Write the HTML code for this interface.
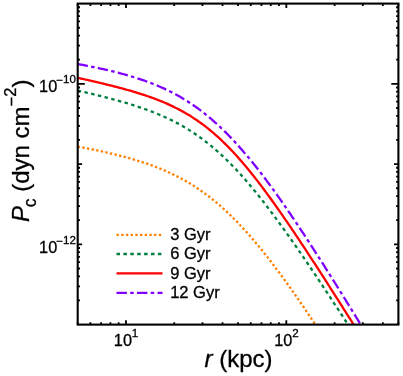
<!DOCTYPE html>
<html><head><meta charset="utf-8"><style>
html,body{margin:0;padding:0;background:#fff;}
svg{display:block;opacity:0.999;will-change:transform}
text{font-family:"Liberation Sans",sans-serif;fill:#000;stroke:#000;stroke-width:0.3px}
</style></head><body>
<svg width="403" height="376" viewBox="0 0 403 376">
<rect width="403" height="376" fill="#fff"/>
<defs><clipPath id="c"><rect x="77.70" y="3.60" width="320.70" height="321.00"/></clipPath></defs>

<g clip-path="url(#c)" fill="none" stroke-width="2.3">
<polyline points="77.70,146.58 79.31,146.89 80.92,147.19 82.53,147.50 84.15,147.81 85.76,148.13 87.37,148.45 88.98,148.77 90.59,149.09 92.20,149.42 93.82,149.75 95.43,150.08 97.04,150.42 98.65,150.76 100.26,151.11 101.87,151.46 103.48,151.81 105.10,152.17 106.71,152.53 108.32,152.90 109.93,153.27 111.54,153.65 113.15,154.03 114.77,154.42 116.38,154.81 117.99,155.21 119.60,155.62 121.21,156.03 122.82,156.45 124.44,156.88 126.05,157.31 127.66,157.75 129.27,158.20 130.88,158.65 132.49,159.12 134.10,159.59 135.72,160.07 137.33,160.56 138.94,161.05 140.55,161.56 142.16,162.08 143.77,162.61 145.39,163.14 147.00,163.69 148.61,164.25 150.22,164.82 151.83,165.41 153.44,166.00 155.05,166.61 156.67,167.23 158.28,167.86 159.89,168.51 161.50,169.17 163.11,169.84 164.72,170.53 166.34,171.24 167.95,171.96 169.56,172.69 171.17,173.44 172.78,174.21 174.39,174.99 176.01,175.80 177.62,176.62 179.23,177.45 180.84,178.31 182.45,179.18 184.06,180.08 185.67,180.99 187.29,181.93 188.90,182.88 190.51,183.85 192.12,184.85 193.73,185.86 195.34,186.90 196.96,187.96 198.57,189.04 200.18,190.15 201.79,191.27 203.40,192.42 205.01,193.59 206.62,194.79 208.24,196.01 209.85,197.25 211.46,198.52 213.07,199.81 214.68,201.12 216.29,202.46 217.91,203.82 219.52,205.21 221.13,206.62 222.74,208.06 224.35,209.52 225.96,211.00 227.57,212.51 229.19,214.04 230.80,215.60 232.41,217.18 234.02,218.79 235.63,220.42 237.24,222.07 238.86,223.74 240.47,225.44 242.08,227.17 243.69,228.91 245.30,230.68 246.91,232.47 248.53,234.29 250.14,236.12 251.75,237.98 253.36,239.86 254.97,241.76 256.58,243.67 258.19,245.61 259.81,247.57 261.42,249.55 263.03,251.55 264.64,253.57 266.25,255.61 267.86,257.66 269.48,259.73 271.09,261.82 272.70,263.93 274.31,266.05 275.92,268.19 277.53,270.35 279.14,272.52 280.76,274.71 282.37,276.91 283.98,279.12 285.59,281.35 287.20,283.60 288.81,285.85 290.43,288.12 292.04,290.41 293.65,292.70 295.26,295.01 296.87,297.32 298.48,299.65 300.09,301.99 301.71,304.34 303.32,306.70 304.93,309.07 306.54,311.45 308.15,313.84 309.76,316.24 311.38,318.65 312.99,321.06 314.60,323.49 316.21,325.92 317.82,328.36" stroke="#ff8000" stroke-dasharray="2.35 2.35"/>
<polyline points="77.70,90.55 79.31,90.92 80.92,91.29 82.53,91.67 84.15,92.05 85.76,92.43 87.37,92.81 88.98,93.19 90.59,93.58 92.20,93.97 93.82,94.36 95.43,94.75 97.04,95.15 98.65,95.55 100.26,95.96 101.87,96.36 103.48,96.77 105.10,97.19 106.71,97.60 108.32,98.02 109.93,98.45 111.54,98.88 113.15,99.31 114.77,99.75 116.38,100.20 117.99,100.64 119.60,101.10 121.21,101.56 122.82,102.02 124.44,102.49 126.05,102.97 127.66,103.45 129.27,103.94 130.88,104.44 132.49,104.94 134.10,105.45 135.72,105.97 137.33,106.50 138.94,107.04 140.55,107.58 142.16,108.13 143.77,108.70 145.39,109.27 147.00,109.85 148.61,110.45 150.22,111.05 151.83,111.67 153.44,112.29 155.05,112.93 156.67,113.58 158.28,114.25 159.89,114.92 161.50,115.61 163.11,116.32 164.72,117.04 166.34,117.77 167.95,118.52 169.56,119.29 171.17,120.07 172.78,120.87 174.39,121.69 176.01,122.52 177.62,123.38 179.23,124.25 180.84,125.14 182.45,126.05 184.06,126.98 185.67,127.93 187.29,128.90 188.90,129.89 190.51,130.90 192.12,131.94 193.73,133.00 195.34,134.08 196.96,135.18 198.57,136.31 200.18,137.46 201.79,138.63 203.40,139.83 205.01,141.06 206.62,142.30 208.24,143.58 209.85,144.88 211.46,146.20 213.07,147.55 214.68,148.92 216.29,150.32 217.91,151.74 219.52,153.19 221.13,154.67 222.74,156.17 224.35,157.70 225.96,159.25 227.57,160.82 229.19,162.43 230.80,164.05 232.41,165.70 234.02,167.38 235.63,169.08 237.24,170.80 238.86,172.55 240.47,174.32 242.08,176.11 243.69,177.93 245.30,179.76 246.91,181.62 248.53,183.50 250.14,185.41 251.75,187.33 253.36,189.27 254.97,191.23 256.58,193.21 258.19,195.22 259.81,197.23 261.42,199.27 263.03,201.33 264.64,203.40 266.25,205.49 267.86,207.59 269.48,209.71 271.09,211.85 272.70,214.00 274.31,216.16 275.92,218.34 277.53,220.53 279.14,222.74 280.76,224.96 282.37,227.19 283.98,229.43 285.59,231.68 287.20,233.95 288.81,236.22 290.43,238.51 292.04,240.81 293.65,243.11 295.26,245.43 296.87,247.75 298.48,250.08 300.09,252.42 301.71,254.77 303.32,257.13 304.93,259.49 306.54,261.86 308.15,264.24 309.76,266.62 311.38,269.01 312.99,271.41 314.60,273.81 316.21,276.22 317.82,278.63 319.43,281.05 321.05,283.47 322.66,285.90 324.27,288.33 325.88,290.77 327.49,293.21 329.10,295.65 330.71,298.10 332.33,300.55 333.94,303.01 335.55,305.47 337.16,307.93 338.77,310.40 340.38,312.86 342.00,315.33 343.61,317.81 345.22,320.28 346.83,322.76 348.44,325.24 350.05,327.73" stroke="#008040" stroke-dasharray="3.5 3.4"/>
<polyline points="77.70,77.81 79.31,78.17 80.92,78.53 82.53,78.88 84.15,79.25 85.76,79.61 87.37,79.97 88.98,80.34 90.59,80.71 92.20,81.08 93.82,81.45 95.43,81.82 97.04,82.20 98.65,82.58 100.26,82.96 101.87,83.34 103.48,83.73 105.10,84.12 106.71,84.51 108.32,84.91 109.93,85.31 111.54,85.72 113.15,86.12 114.77,86.53 116.38,86.95 117.99,87.37 119.60,87.80 121.21,88.23 122.82,88.66 124.44,89.10 126.05,89.55 127.66,90.00 129.27,90.46 130.88,90.92 132.49,91.39 134.10,91.87 135.72,92.35 137.33,92.84 138.94,93.34 140.55,93.85 142.16,94.37 143.77,94.89 145.39,95.43 147.00,95.97 148.61,96.53 150.22,97.10 151.83,97.67 153.44,98.26 155.05,98.86 156.67,99.47 158.28,100.10 159.89,100.74 161.50,101.39 163.11,102.05 164.72,102.74 166.34,103.43 167.95,104.15 169.56,104.88 171.17,105.62 172.78,106.38 174.39,107.17 176.01,107.97 177.62,108.79 179.23,109.63 180.84,110.49 182.45,111.37 184.06,112.27 185.67,113.19 187.29,114.14 188.90,115.11 190.51,116.10 192.12,117.12 193.73,118.16 195.34,119.22 196.96,120.32 198.57,121.43 200.18,122.58 201.79,123.75 203.40,124.94 205.01,126.17 206.62,127.42 208.24,128.70 209.85,130.01 211.46,131.34 213.07,132.71 214.68,134.10 216.29,135.52 217.91,136.97 219.52,138.45 221.13,139.95 222.74,141.49 224.35,143.05 225.96,144.64 227.57,146.26 229.19,147.91 230.80,149.58 232.41,151.29 234.02,153.02 235.63,154.77 237.24,156.55 238.86,158.36 240.47,160.20 242.08,162.06 243.69,163.94 245.30,165.85 246.91,167.78 248.53,169.73 250.14,171.71 251.75,173.71 253.36,175.73 254.97,177.78 256.58,179.84 258.19,181.92 259.81,184.02 261.42,186.15 263.03,188.29 264.64,190.44 266.25,192.62 267.86,194.81 269.48,197.02 271.09,199.24 272.70,201.48 274.31,203.73 275.92,206.00 277.53,208.28 279.14,210.57 280.76,212.88 282.37,215.20 283.98,217.53 285.59,219.87 287.20,222.22 288.81,224.58 290.43,226.95 292.04,229.34 293.65,231.73 295.26,234.13 296.87,236.54 298.48,238.95 300.09,241.37 301.71,243.81 303.32,246.24 304.93,248.69 306.54,251.14 308.15,253.60 309.76,256.06 311.38,258.53 312.99,261.01 314.60,263.49 316.21,265.97 317.82,268.46 319.43,270.95 321.05,273.45 322.66,275.95 324.27,278.46 325.88,280.97 327.49,283.48 329.10,286.00 330.71,288.52 332.33,291.04 333.94,293.57 335.55,296.10 337.16,298.63 338.77,301.16 340.38,303.70 342.00,306.24 343.61,308.78 345.22,311.32 346.83,313.87 348.44,316.41 350.05,318.96 351.66,321.51 353.28,324.07 354.89,326.62 356.50,329.17" stroke="#ff0000"/>
<polyline points="77.70,63.97 79.31,64.27 80.92,64.58 82.53,64.88 84.15,65.20 85.76,65.51 87.37,65.83 88.98,66.15 90.59,66.48 92.20,66.81 93.82,67.14 95.43,67.47 97.04,67.82 98.65,68.16 100.26,68.51 101.87,68.87 103.48,69.23 105.10,69.59 106.71,69.96 108.32,70.33 109.93,70.72 111.54,71.10 113.15,71.49 114.77,71.89 116.38,72.30 117.99,72.71 119.60,73.13 121.21,73.56 122.82,73.99 124.44,74.43 126.05,74.88 127.66,75.34 129.27,75.81 130.88,76.28 132.49,76.77 134.10,77.26 135.72,77.76 137.33,78.28 138.94,78.80 140.55,79.34 142.16,79.88 143.77,80.44 145.39,81.01 147.00,81.59 148.61,82.18 150.22,82.79 151.83,83.41 153.44,84.05 155.05,84.69 156.67,85.36 158.28,86.03 159.89,86.73 161.50,87.43 163.11,88.16 164.72,88.90 166.34,89.66 167.95,90.43 169.56,91.22 171.17,92.03 172.78,92.86 174.39,93.71 176.01,94.58 177.62,95.46 179.23,96.37 180.84,97.30 182.45,98.25 184.06,99.22 185.67,100.21 187.29,101.22 188.90,102.25 190.51,103.31 192.12,104.39 193.73,105.49 195.34,106.62 196.96,107.77 198.57,108.94 200.18,110.14 201.79,111.36 203.40,112.61 205.01,113.88 206.62,115.17 208.24,116.49 209.85,117.84 211.46,119.21 213.07,120.61 214.68,122.03 216.29,123.48 217.91,124.95 219.52,126.45 221.13,127.97 222.74,129.52 224.35,131.09 225.96,132.69 227.57,134.31 229.19,135.96 230.80,137.64 232.41,139.33 234.02,141.06 235.63,142.80 237.24,144.57 238.86,146.37 240.47,148.18 242.08,150.02 243.69,151.89 245.30,153.77 246.91,155.68 248.53,157.61 250.14,159.56 251.75,161.53 253.36,163.52 254.97,165.54 256.58,167.57 258.19,169.62 259.81,171.70 261.42,173.79 263.03,175.90 264.64,178.02 266.25,180.17 267.86,182.33 269.48,184.51 271.09,186.71 272.70,188.92 274.31,191.15 275.92,193.39 277.53,195.65 279.14,197.92 280.76,200.21 282.37,202.51 283.98,204.82 285.59,207.15 287.20,209.49 288.81,211.84 290.43,214.20 292.04,216.57 293.65,218.96 295.26,221.36 296.87,223.76 298.48,226.18 300.09,228.61 301.71,231.04 303.32,233.49 304.93,235.94 306.54,238.41 308.15,240.88 309.76,243.36 311.38,245.84 312.99,248.34 314.60,250.84 316.21,253.35 317.82,255.86 319.43,258.38 321.05,260.91 322.66,263.45 324.27,265.99 325.88,268.53 327.49,271.08 329.10,273.64 330.71,276.20 332.33,278.77 333.94,281.34 335.55,283.92 337.16,286.50 338.77,289.08 340.38,291.67 342.00,294.26 343.61,296.86 345.22,299.46 346.83,302.06 348.44,304.66 350.05,307.27 351.66,309.89 353.28,312.50 354.89,315.12 356.50,317.74 358.11,320.37 359.72,322.99 361.33,325.62 362.95,328.25" stroke="#8000ff" stroke-dasharray="10.4 3.3 3.5 3.3"/>
</g>
<path d="M77.70 3.60v2.30M77.70 324.60v-2.30M90.40 3.60v2.30M90.40 324.60v-2.30M101.13 3.60v2.30M101.13 324.60v-2.30M110.43 3.60v2.30M110.43 324.60v-2.30M118.63 3.60v2.30M118.63 324.60v-2.30M125.97 3.60v4.40M125.97 324.60v-4.40M174.24 3.60v2.30M174.24 324.60v-2.30M202.48 3.60v2.30M202.48 324.60v-2.30M222.51 3.60v2.30M222.51 324.60v-2.30M238.05 3.60v2.30M238.05 324.60v-2.30M250.75 3.60v2.30M250.75 324.60v-2.30M261.48 3.60v2.30M261.48 324.60v-2.30M270.78 3.60v2.30M270.78 324.60v-2.30M278.98 3.60v2.30M278.98 324.60v-2.30M286.32 3.60v4.40M286.32 324.60v-4.40M334.59 3.60v2.30M334.59 324.60v-2.30M362.83 3.60v2.30M362.83 324.60v-2.30M382.86 3.60v2.30M382.86 324.60v-2.30M398.40 3.60v2.30M398.40 324.60v-2.30M77.70 300.44h2.30M398.40 300.44h-2.30M77.70 286.31h2.30M398.40 286.31h-2.30M77.70 276.28h2.30M398.40 276.28h-2.30M77.70 268.51h2.30M398.40 268.51h-2.30M77.70 262.15h2.30M398.40 262.15h-2.30M77.70 256.78h2.30M398.40 256.78h-2.30M77.70 252.13h2.30M398.40 252.13h-2.30M77.70 248.02h2.30M398.40 248.02h-2.30M77.70 244.35h4.40M398.40 244.35h-4.40M77.70 220.19h2.30M398.40 220.19h-2.30M77.70 206.06h2.30M398.40 206.06h-2.30M77.70 196.03h2.30M398.40 196.03h-2.30M77.70 188.26h2.30M398.40 188.26h-2.30M77.70 181.90h2.30M398.40 181.90h-2.30M77.70 176.53h2.30M398.40 176.53h-2.30M77.70 171.88h2.30M398.40 171.88h-2.30M77.70 167.77h2.30M398.40 167.77h-2.30M77.70 164.10h4.40M398.40 164.10h-4.40M77.70 139.94h2.30M398.40 139.94h-2.30M77.70 125.81h2.30M398.40 125.81h-2.30M77.70 115.78h2.30M398.40 115.78h-2.30M77.70 108.01h2.30M398.40 108.01h-2.30M77.70 101.65h2.30M398.40 101.65h-2.30M77.70 96.28h2.30M398.40 96.28h-2.30M77.70 91.63h2.30M398.40 91.63h-2.30M77.70 87.52h2.30M398.40 87.52h-2.30M77.70 83.85h7.10M398.40 83.85h-7.10M77.70 59.69h2.30M398.40 59.69h-2.30M77.70 45.56h2.30M398.40 45.56h-2.30M77.70 35.53h2.30M398.40 35.53h-2.30M77.70 27.76h2.30M398.40 27.76h-2.30M77.70 21.40h2.30M398.40 21.40h-2.30M77.70 16.03h2.30M398.40 16.03h-2.30M77.70 11.38h2.30M398.40 11.38h-2.30M77.70 7.27h2.30M398.40 7.27h-2.30" stroke="#000" stroke-width="1.8" fill="none"/>
<rect x="77.70" y="3.60" width="320.70" height="321.00" fill="none" stroke="#000" stroke-width="2.1"/>
<path d="M116.5 234.80H162.5" stroke="#ff8000" stroke-width="2.3" stroke-dasharray="2.35 2.35"/>
<text x="170.2" y="240.10" font-size="16.5">3 Gyr</text>
<path d="M116.5 254.00H162.5" stroke="#008040" stroke-width="2.3" stroke-dasharray="3.5 3.4"/>
<text x="170.2" y="259.30" font-size="16.5">6 Gyr</text>
<path d="M116.5 273.30H162.5" stroke="#ff0000" stroke-width="2.3"/>
<text x="170.2" y="278.60" font-size="16.5">9 Gyr</text>
<path d="M116.5 292.90H162.5" stroke="#8000ff" stroke-width="2.3" stroke-dasharray="10.4 3.3 3.5 3.3"/>
<text x="170.2" y="298.20" font-size="16.5">12 Gyr</text>
<text x="39.1" y="92.25" font-size="16.3">10</text>
<text x="56.3" y="83.05" font-size="11.6"><tspan dy="1">−</tspan><tspan dy="-1">10</tspan></text>
<text x="39.1" y="252.75" font-size="16.3">10</text>
<text x="56.3" y="243.55" font-size="11.6"><tspan dy="1">−</tspan><tspan dy="-1">12</tspan></text>
<text x="113.87" y="346.0" font-size="16.3">10</text>
<text x="131.87" y="337.0" font-size="11.6">1</text>
<text x="274.22" y="346.0" font-size="16.3">10</text>
<text x="292.22" y="337.0" font-size="11.6">2</text>
<text x="204.6" y="366.8" font-size="24"><tspan font-style="italic">r</tspan> (kpc)</text>
<g transform="translate(29.0,222.0) rotate(-90)"><text x="0" y="0" font-size="24"><tspan font-style="italic">P</tspan><tspan font-size="17.7" dy="7.1" dx="-1.3">c</tspan><tspan dy="-7.1"> (dyn cm</tspan><tspan font-size="16.5" dy="-11.9">−</tspan><tspan font-size="16.5" dy="-1.3">2</tspan><tspan dy="13.2">)</tspan></text></g>
</svg></body></html>
